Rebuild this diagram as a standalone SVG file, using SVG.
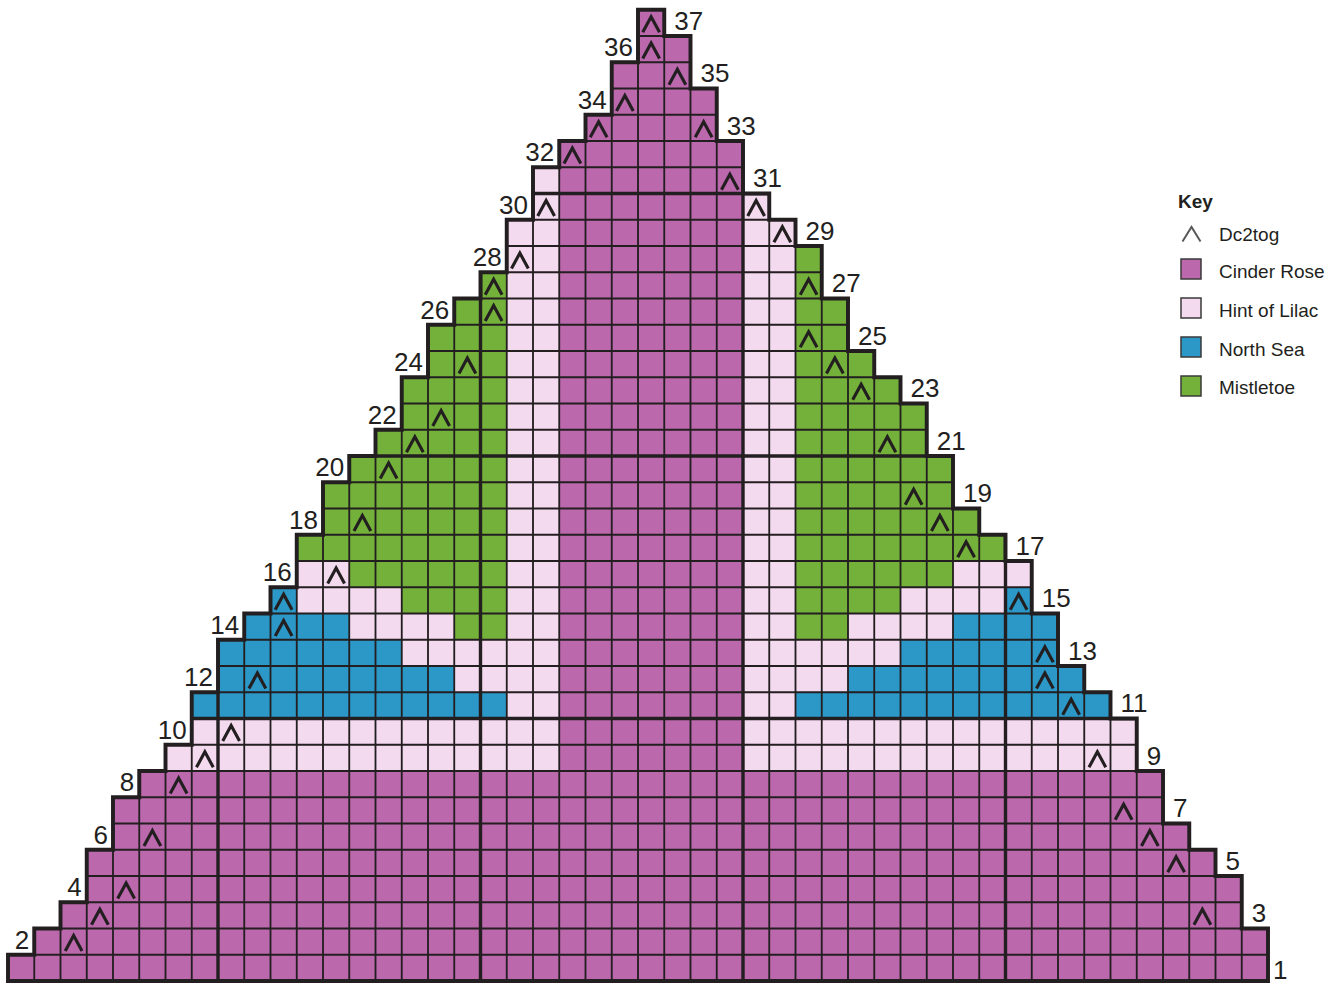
<svg xmlns="http://www.w3.org/2000/svg" xmlns:xlink="http://www.w3.org/1999/xlink" width="1340" height="986" viewBox="0 0 1340 986">
<style>
.cr{fill:#bb68ad}
.hl{fill:#f4daef}
.ns{fill:#2c98c8}
.mt{fill:#74b13a}
.thin{fill:none;stroke:#231f20;stroke-width:0.07}
.thick{fill:none;stroke:#231f20;stroke-width:0.13}
.edge{fill:none;stroke:#231f20;stroke-width:0.15;stroke-linejoin:miter}
.dec{fill:none;stroke:#231f20;stroke-width:0.12;stroke-linejoin:miter;stroke-miterlimit:10}
.num{font-family:'Liberation Sans',Arial,sans-serif;font-size:26px;fill:#231f20}
.lab{font-family:'Liberation Sans',Arial,sans-serif;font-size:19px;fill:#231f20}
.sw{stroke:#3a3a3a;stroke-width:1.5}
</style>
<defs>
<path id="shape" d="M24,0H25V1H26V3H27V5H28V7H29V8H30V9H31V11H32V13H33V14H34V15H35V17H36V19H37V20H38V21H39V23H40V25H41V26H42V27H43V29H44V31H45V32H46V33H47V35H48V37H0V36H1V35H2V34H3V32H4V30H5V29H6V28H7V26H8V24H9V23H10V22H11V20H12V18H13V17H14V16H15V14H16V12H17V11H18V10H19V8H20V6H21V5H22V4H23V2H24Z"/>
<clipPath id="clip"><use href="#shape"/></clipPath>
<path id="v" class="dec" d="M0.18,0.86L0.5,0.27L0.82,0.86"/>
</defs>
<rect width="1340" height="986" fill="#ffffff"/>
<g id="chart" transform="translate(8 9.75) scale(26.25)">
<g id="fills">
<use href="#shape" class="cr"/>
<path class="hl" d="M20,6H21V29H6V28H7V27H19V8H20Z"/>
<path class="hl" d="M28,7H29V8H30V27H43V29H28Z"/>
<path class="hl" d="M11,21H13V22H15V23H17V24H19V26H17V25H15V24H13V23H11Z"/>
<path class="hl" d="M36,21H39V22H38V23H36V24H34V25H32V26H30V24H32V23H34V22H36Z"/>
<path class="ns" d="M10,22H11V23H13V24H15V25H17V26H19V27H7V26H8V24H9V23H10Z"/>
<path class="ns" d="M38,22H39V23H40V25H41V26H42V27H30V26H32V25H34V24H36V23H38Z"/>
<path class="mt" d="M19,10V24H17V23H15V22H13V21H11V20H12V18H13V17H14V16H15V14H16V12H17V11H18V10Z"/>
<path class="mt" d="M30,9H31V11H32V13H33V14H34V15H35V17H36V19H37V20H38V21H36V22H34V23H32V24H30Z"/>
</g>
<g id="grid" clip-path="url(#clip)">
<path class="thin" d="M0 1H48M0 2H48M0 3H48M0 4H48M0 5H48M0 6H48M0 7H48M0 8H48M0 9H48M0 10H48M0 11H48M0 12H48M0 13H48M0 14H48M0 15H48M0 16H48M0 17H48M0 18H48M0 19H48M0 20H48M0 21H48M0 22H48M0 23H48M0 24H48M0 25H48M0 26H48M0 27H48M0 28H48M0 29H48M0 30H48M0 31H48M0 32H48M0 33H48M0 34H48M0 35H48M0 36H48"/>
<path class="thin" d="M1 0V37M2 0V37M3 0V37M4 0V37M5 0V37M6 0V37M7 0V37M8 0V37M9 0V37M10 0V37M11 0V37M12 0V37M13 0V37M14 0V37M15 0V37M16 0V37M17 0V37M18 0V37M19 0V37M20 0V37M21 0V37M22 0V37M23 0V37M24 0V37M25 0V37M26 0V37M27 0V37M28 0V37M29 0V37M30 0V37M31 0V37M32 0V37M33 0V37M34 0V37M35 0V37M36 0V37M37 0V37M38 0V37M39 0V37M40 0V37M41 0V37M42 0V37M43 0V37M44 0V37M45 0V37M46 0V37M47 0V37"/>
<path class="thick" d="M8 0V37M18 0V37M28 0V37M38 0V37M0 7H48M0 17H48M0 27H48"/>
</g>
<use id="outline" href="#shape" class="edge"/>
<g id="decreases">
<use href="#v" x="2" y="35"/>
<use href="#v" x="3" y="34"/>
<use href="#v" x="4" y="33"/>
<use href="#v" x="5" y="31"/>
<use href="#v" x="6" y="29"/>
<use href="#v" x="7" y="28"/>
<use href="#v" x="8" y="27"/>
<use href="#v" x="9" y="25"/>
<use href="#v" x="10" y="23"/>
<use href="#v" x="10" y="22"/>
<use href="#v" x="12" y="21"/>
<use href="#v" x="13" y="19"/>
<use href="#v" x="14" y="17"/>
<use href="#v" x="15" y="16"/>
<use href="#v" x="16" y="15"/>
<use href="#v" x="17" y="13"/>
<use href="#v" x="18" y="11"/>
<use href="#v" x="18" y="10"/>
<use href="#v" x="19" y="9"/>
<use href="#v" x="20" y="7"/>
<use href="#v" x="21" y="5"/>
<use href="#v" x="22" y="4"/>
<use href="#v" x="23" y="3"/>
<use href="#v" x="24" y="1"/>
<use href="#v" x="24" y="0"/>
<use href="#v" x="45" y="34"/>
<use href="#v" x="44" y="32"/>
<use href="#v" x="43" y="31"/>
<use href="#v" x="42" y="30"/>
<use href="#v" x="41" y="28"/>
<use href="#v" x="40" y="26"/>
<use href="#v" x="39" y="25"/>
<use href="#v" x="39" y="24"/>
<use href="#v" x="38" y="22"/>
<use href="#v" x="36" y="20"/>
<use href="#v" x="35" y="19"/>
<use href="#v" x="34" y="18"/>
<use href="#v" x="33" y="16"/>
<use href="#v" x="32" y="14"/>
<use href="#v" x="31" y="13"/>
<use href="#v" x="30" y="12"/>
<use href="#v" x="30" y="10"/>
<use href="#v" x="29" y="8"/>
<use href="#v" x="28" y="7"/>
<use href="#v" x="27" y="6"/>
<use href="#v" x="26" y="4"/>
<use href="#v" x="25" y="2"/>
</g>
</g>
<g id="row-labels" class="num">
<text x="1273" y="979">1</text>
<text x="29.25" y="948.7" text-anchor="end">2</text>
<text x="1251.75" y="922.45">3</text>
<text x="81.75" y="896.2" text-anchor="end">4</text>
<text x="1225.5" y="869.95">5</text>
<text x="108" y="843.7" text-anchor="end">6</text>
<text x="1173" y="817.45">7</text>
<text x="134.25" y="791.2" text-anchor="end">8</text>
<text x="1146.75" y="764.95">9</text>
<text x="186.75" y="738.7" text-anchor="end">10</text>
<text x="1120.5" y="712.45">11</text>
<text x="213" y="686.2" text-anchor="end">12</text>
<text x="1068" y="659.95">13</text>
<text x="239.25" y="633.7" text-anchor="end">14</text>
<text x="1041.75" y="607.45">15</text>
<text x="291.75" y="581.2" text-anchor="end">16</text>
<text x="1015.5" y="554.95">17</text>
<text x="318" y="528.7" text-anchor="end">18</text>
<text x="963" y="502.45">19</text>
<text x="344.25" y="476.2" text-anchor="end">20</text>
<text x="936.75" y="449.95">21</text>
<text x="396.75" y="423.7" text-anchor="end">22</text>
<text x="910.5" y="397.45">23</text>
<text x="423" y="371.2" text-anchor="end">24</text>
<text x="858" y="344.95">25</text>
<text x="449.25" y="318.7" text-anchor="end">26</text>
<text x="831.75" y="292.45">27</text>
<text x="501.75" y="266.2" text-anchor="end">28</text>
<text x="805.5" y="239.95">29</text>
<text x="528" y="213.7" text-anchor="end">30</text>
<text x="753" y="187.45">31</text>
<text x="554.25" y="161.2" text-anchor="end">32</text>
<text x="726.75" y="134.95">33</text>
<text x="606.75" y="108.7" text-anchor="end">34</text>
<text x="700.5" y="82.45">35</text>
<text x="633" y="56.2" text-anchor="end">36</text>
<text x="674.25" y="29.95">37</text>
</g>
<g id="key">
<text class="lab" x="1178" y="208" font-weight="bold">Key</text>
<path d="M1182.5,241.5L1191.5,227L1200.5,241.5" fill="none" stroke="#58595b" stroke-width="2"/>
<text class="lab" x="1219" y="241">Dc2tog</text>
<rect class="cr sw" x="1181" y="259" width="20" height="20"/>
<text class="lab" x="1219" y="278">Cinder Rose</text>
<rect class="hl sw" x="1181" y="298" width="20" height="20"/>
<text class="lab" x="1219" y="317">Hint of Lilac</text>
<rect class="ns sw" x="1181" y="337" width="20" height="20"/>
<text class="lab" x="1219" y="356">North Sea</text>
<rect class="mt sw" x="1181" y="376" width="20" height="20"/>
<text class="lab" x="1219" y="394">Mistletoe</text>
</g>
</svg>
